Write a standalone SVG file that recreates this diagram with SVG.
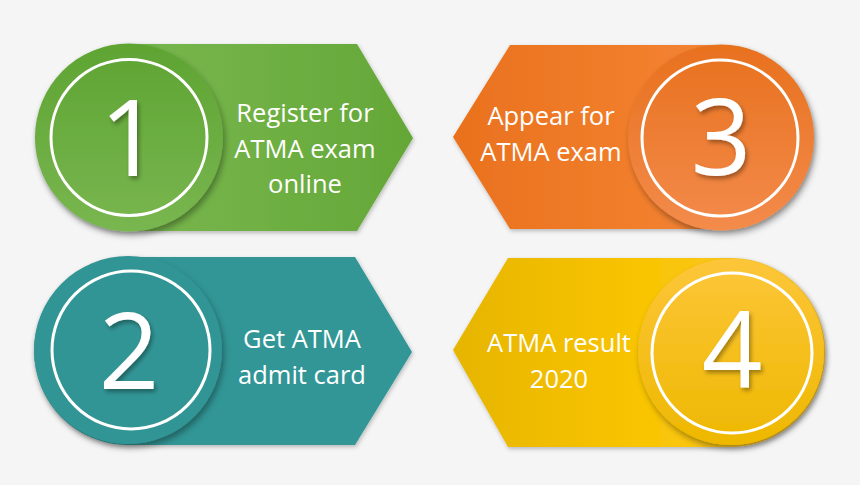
<svg xmlns="http://www.w3.org/2000/svg" width="860" height="485" viewBox="0 0 860 485">
<defs>
<style>
.lbl{font-family:"Open Sans","Noto Sans","Liberation Sans",sans-serif;font-size:25.5px;fill:#fff;text-anchor:middle}
.num{font-family:"Open Sans","Noto Sans","Liberation Sans",sans-serif;font-size:106px;fill:#fff;text-anchor:middle}
.ring{fill:none;stroke:#fff;stroke-width:3}
</style>
<filter id="sh" x="-20%" y="-20%" width="150%" height="150%">
<feDropShadow dx="2" dy="4" stdDeviation="3" flood-color="#000" flood-opacity="0.35"/>
</filter>
<filter id="shb" x="-20%" y="-20%" width="150%" height="150%">
<feDropShadow dx="1" dy="2" stdDeviation="2" flood-color="#000" flood-opacity="0.25"/>
</filter>
<filter id="tsh" x="-20%" y="-20%" width="150%" height="150%">
<feDropShadow dx="2" dy="3" stdDeviation="2" flood-color="#000" flood-opacity="0.35"/>
</filter>
<linearGradient id="gB" x1="0" y1="0" x2="1" y2="0">
<stop offset="0" stop-color="#7db955"/><stop offset="0.5" stop-color="#72b247"/><stop offset="1" stop-color="#64a737"/>
</linearGradient>
<linearGradient id="gC" x1="0" y1="0" x2="0" y2="1">
<stop offset="0" stop-color="#5ea432"/><stop offset="1" stop-color="#79b650"/>
</linearGradient>
<linearGradient id="oB" x1="0" y1="0" x2="1" y2="0">
<stop offset="0" stop-color="#e9711d"/><stop offset="0.55" stop-color="#f27f2d"/><stop offset="1" stop-color="#f38b49"/>
</linearGradient>
<linearGradient id="oC" x1="0" y1="0" x2="0" y2="1">
<stop offset="0" stop-color="#e8711e"/><stop offset="1" stop-color="#f38b4b"/>
</linearGradient>
<linearGradient id="yB" x1="0" y1="0" x2="1" y2="0">
<stop offset="0" stop-color="#e6b500"/><stop offset="0.5" stop-color="#f9c400"/><stop offset="1" stop-color="#fdc93a"/>
</linearGradient>
<linearGradient id="yC" x1="0" y1="0" x2="0" y2="1">
<stop offset="0" stop-color="#fdc63a"/><stop offset="1" stop-color="#eeb800"/>
</linearGradient>
</defs>
<rect width="860" height="485" fill="#f5f5f5"/>

<g id="step1">
<path d="M129,44 H357 L413,138 L357,231 H129 A93.5,93.5 0 0 1 129,44 Z" fill="url(#gB)" filter="url(#shb)"/>
<circle cx="129" cy="137.5" r="94" fill="url(#gC)" filter="url(#sh)"/>
<circle class="ring" cx="129" cy="137.5" r="78"/>
<text class="num" x="130" y="176" filter="url(#tsh)">1</text>
<text class="lbl" x="305" y="122">Register for</text>
<text class="lbl" x="305" y="158">ATMA exam</text>
<text class="lbl" x="305" y="193">online</text>
</g>

<g id="step3">
<path d="M721,45 H510 L453,137 L510,229 H721 A92,92 0 0 0 721,45 Z" fill="url(#oB)" filter="url(#shb)"/>
<circle cx="721" cy="137.5" r="93" fill="url(#oC)" filter="url(#sh)"/>
<circle class="ring" cx="720" cy="138" r="78"/>
<text class="num" x="721" y="175" filter="url(#tsh)">3</text>
<text class="lbl" x="551" y="125">Appear for</text>
<text class="lbl" x="551" y="161">ATMA exam</text>
</g>

<g id="step2">
<path d="M128,257 H355 L412,352 L355,445 H128 A94,94 0 0 1 128,257 Z" fill="#339696" filter="url(#shb)"/>
<circle cx="128" cy="350" r="94" fill="#339595" filter="url(#sh)"/>
<circle class="ring" cx="131" cy="350" r="79"/>
<text class="num" x="129" y="389" filter="url(#tsh)">2</text>
<text class="lbl" x="302" y="348">Get ATMA</text>
<text class="lbl" x="302" y="384">admit card</text>
</g>

<g id="step4">
<path d="M731,258 H508 L453,350 L508,447 H731 A94.5,94.5 0 0 0 731,258 Z" fill="url(#yB)" filter="url(#shb)"/>
<circle cx="731" cy="352" r="93" fill="url(#yC)" filter="url(#sh)"/>
<circle class="ring" cx="732" cy="353" r="80"/>
<text class="num" x="732" y="388" filter="url(#tsh)">4</text>
<text class="lbl" x="559" y="352">ATMA result</text>
<text class="lbl" x="559" y="388">2020</text>
</g>
</svg>
